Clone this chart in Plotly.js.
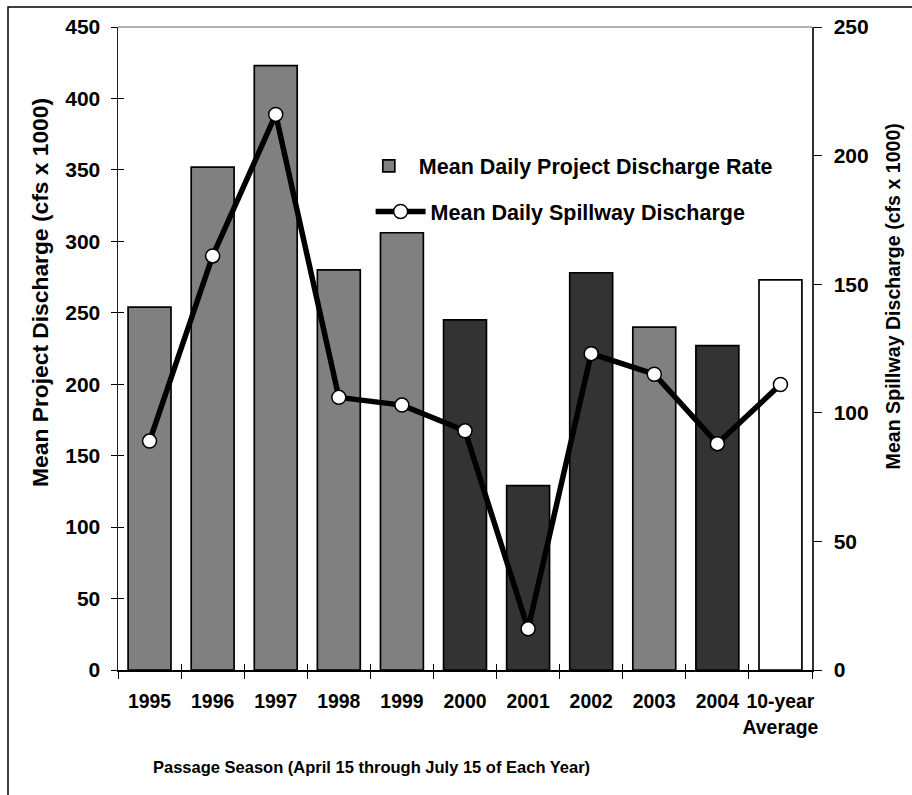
<!DOCTYPE html>
<html>
<head>
<meta charset="utf-8">
<script src="https://cdn.plot.ly/plotly-3.0.1.min.js"></script>
<style>
  body { margin: 0; background: #fff; }
  #grafico { width: 912px; height: 795px; }
</style>
</head>
<body>
<div id="grafico"></div>
<script>
// datos
const temporadas = ["1995", "1996", "1997", "1998", "1999", "2000", "2001", "2002", "2003", "2004", "10-year<br>Average"];
const descargaProyecto = [254, 352, 423, 280, 306, 245, 129, 278, 240, 227, 273];
const descargaVertedero = [89, 161, 216, 106, 103, 93, 16, 123, 115, 88, 111];
const coloresBarras = ["#808080", "#808080", "#808080", "#808080", "#808080", "#333333", "#333333", "#333333", "#808080", "#333333", "#ffffff"];

const fuente = { family: "Liberation Sans, Arial, sans-serif", color: "#000", weight: "bold" };
const rangoX = [-0.5, temporadas.length - 0.5];

const barras = {
  x: temporadas,
  y: descargaProyecto,
  type: "bar",
  name: "Mean Daily Project Discharge Rate",
  marker: { color: coloresBarras, line: { color: "#000", width: 1.7 } },
  width: 0.68,
  legend: "legend"
};

const linea = {
  x: temporadas,
  y: descargaVertedero,
  type: "scatter",
  mode: "lines+markers",
  yaxis: "y2",
  name: "Mean Daily Spillway Discharge",
  line: { color: "#000", width: 5.5 },
  marker: { symbol: "circle", size: 14, color: "#fff", line: { color: "#000", width: 1.5 } },
  legend: "legend2"
};

// trazo invisible solo para dibujar los ticks de adentro
const fantasma = {
  x: temporadas, y: descargaProyecto, xaxis: "x2", yaxis: "y3",
  type: "bar", showlegend: false, hoverinfo: "skip", opacity: 0
};

const layout = {
  width: 912,
  height: 795,
  margin: { l: 118, r: 100, t: 27, b: 125 },
  paper_bgcolor: "#fff",
  plot_bgcolor: "rgba(0,0,0,0)",
  font: { ...fuente, size: 19 },
  showlegend: true,
  legend: {
    x: 0.347, y: 0.784, xanchor: "left", yanchor: "middle",
    bgcolor: "rgba(0,0,0,0)", itemwidth: 50,
    font: { ...fuente, size: 21.5 }
  },
  legend2: {
    x: 0.364, y: 0.713, xanchor: "left", yanchor: "middle",
    bgcolor: "rgba(0,0,0,0)", itemwidth: 50,
    font: { ...fuente, size: 21.5 }
  },
  xaxis: {
    type: "category", range: rangoX,
    tickson: "boundaries", tickangle: 0,
    ticks: "outside", ticklen: 7, tickcolor: "#000", tickwidth: 1,
    ticklabelstandoff: 13,
    showline: true, linecolor: "#000", linewidth: 2,
    showgrid: false,
    tickfont: { ...fuente, size: 19.4 }
  },
  xaxis2: {
    type: "category", overlaying: "x", range: rangoX,
    tickson: "boundaries", ticks: "inside", ticklen: 6, tickcolor: "#000",
    showticklabels: false, showgrid: false, showline: false
  },
  yaxis: {
    range: [0, 450], dtick: 50,
    ticks: "outside", ticklen: 6, tickcolor: "#000",
    ticklabelstandoff: 6,
    showline: true, linecolor: "#222", linewidth: 1.5,
    showgrid: false, zeroline: false,
    tickfont: { ...fuente, size: 21 }
  },
  yaxis3: {
    range: [0, 450], dtick: 50, overlaying: "y",
    ticks: "inside", ticklen: 6, tickcolor: "#000",
    showticklabels: false, showgrid: false, zeroline: false
  },
  yaxis2: {
    range: [0, 250], dtick: 50, overlaying: "y", side: "right",
    ticks: "outside", ticklen: 8, tickcolor: "#000",
    ticklabelstandoff: 8,
    showline: true, linecolor: "#333", linewidth: 1.5,
    showgrid: false, zeroline: false,
    tickfont: { ...fuente, size: 21 }
  },
  annotations: [
    { text: "Passage Season (April 15 through July 15 of Each Year)", xref: "paper", yref: "paper",
      x: 0.3646, y: -0.1509, xanchor: "center", yanchor: "middle", showarrow: false,
      font: { ...fuente, size: 16.5 } },
    { text: "Mean Project Discharge (cfs x 1000)", xref: "paper", yref: "paper", textangle: -90,
      x: -0.1124, y: 0.588, xanchor: "center", yanchor: "middle", showarrow: false,
      font: { ...fuente, size: 22.8 } },
    { text: "Mean Spillway Discharge (cfs x 1000)", xref: "paper", yref: "paper", textangle: -90,
      x: 1.1167, y: 0.581, xanchor: "center", yanchor: "middle", showarrow: false,
      font: { ...fuente, size: 19.6 } }
  ],
  shapes: [
    { type: "line", xref: "paper", yref: "paper", x0: 0, x1: 1, y0: 1, y1: 1, line: { color: "#999", width: 1.5 } },
    { type: "rect", xref: "paper", yref: "paper", x0: -0.1585, x1: 1.15, y0: -0.21, y1: 1.031, line: { color: "#000", width: 1.5 } }
  ]
};

Plotly.newPlot("grafico", [fantasma, barras, linea], layout, { staticPlot: true });
</script>
</body>
</html>
